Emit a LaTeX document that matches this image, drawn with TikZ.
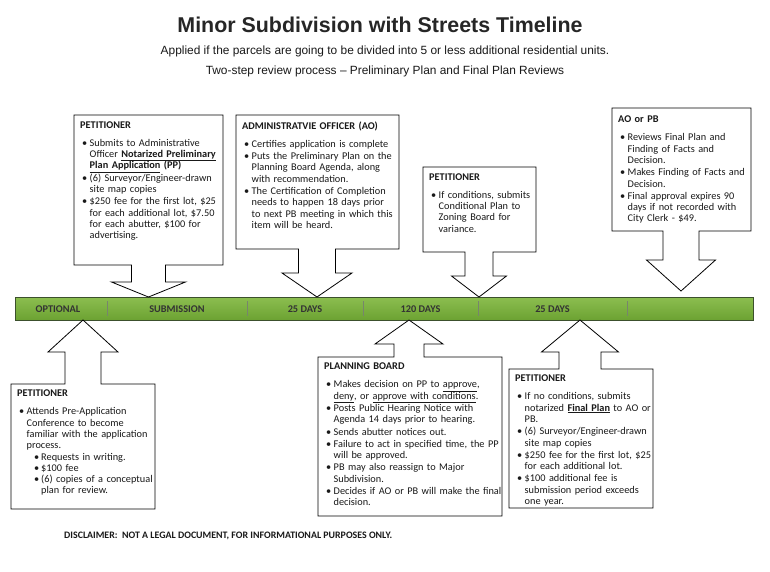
\documentclass[tikz,border=0pt]{standalone}
\usepackage{fontspec}
\setmainfont{Carlito}
\newfontfamily\arialfont{Liberation Sans}
\definecolor{barTop}{RGB}{140,190,80}
\definecolor{barBot}{RGB}{108,162,50}
\definecolor{barEdge}{RGB}{60,80,45}
\definecolor{txt}{RGB}{25,25,25}
\newcommand{\hd}[1]{\noindent\textbf{#1}\par\vspace{5.6pt}}
\newcommand{\bl}[1]{\par\vspace{1pt}\noindent\makebox[9.5pt][l]{\hspace{2pt}\textbullet}#1\par}
\newcommand{\cl}[1]{\noindent\hspace*{9.5pt}#1\par}
\newcommand{\sbl}[1]{\noindent\makebox[24pt][l]{\hspace{17pt}\textbullet}#1\par}
\newcommand{\scl}[1]{\noindent\hspace*{24pt}#1\par}
\newcommand{\ub}[1]{\textbf{\underline{#1}}}
% down callout: L T R B cx s shaftEnd h tip
\newcommand{\dcall}[9]{\draw[callout] (#1,#2) -- (#3,#2) -- (#3,#4) -- ({#5+#6},#4) -- ({#5+#6},#7) -- ({#5+#8},#7) -- (#5,#9) -- ({#5-#8},#7) -- ({#5-#6},#7) -- ({#5-#6},#4) -- (#1,#4) -- cycle;}
% up callout: L T R B cx s wingY h tip
\newcommand{\ucall}[9]{\draw[callout] (#1,#2) -- ({#5-#6},#2) -- ({#5-#6},#7) -- ({#5-#8},#7) -- (#5,#9) -- ({#5+#8},#7) -- ({#5+#6},#7) -- ({#5+#6},#2) -- (#3,#2) -- (#3,#4) -- (#1,#4) -- cycle;}
\begin{document}
\begin{tikzpicture}[x=1pt,y=-1pt,
  callout/.style={draw=black, line width=0.8pt, fill=white, line join=miter},
  boxtext/.style={anchor=north west, inner sep=0pt, text width=200pt, font=\fontsize{10.3}{11.3}\selectfont, text=txt},
  barlabel/.style={anchor=base, inner sep=0pt, font=\bfseries\fontsize{10.3}{12}\selectfont, text=black!80}]
\useasboundingbox (0,0) rectangle (770,572);
\fill[white] (0,0) rectangle (770,572);

% titles
\node[anchor=base, inner sep=0pt, font=\arialfont\bfseries\fontsize{21.4}{24}\selectfont, text=black!85] (title) at (380,33) {Minor Subdivision with Streets Timeline};
\node[anchor=base, inner sep=0pt, font=\arialfont\fontsize{11.9}{14}\selectfont, text=txt] (sub1) at (385,55) {Applied if the parcels are going to be divided into 5 or less additional residential units.};
\node[anchor=base, inner sep=0pt, font=\arialfont\fontsize{11.9}{14}\selectfont, text=txt] (sub2) at (385,75) {Two-step review process – Preliminary Plan and Final Plan Reviews};

% timeline bar
\shade[top color=barTop, bottom color=barBot] (15,297) rectangle (753,320);
\draw[barEdge, line width=0.8pt] (15,297) rectangle (753,320);
\foreach \x in {107,247,363,478,627} \draw[barEdge!70, line width=0.6pt] (\x,301) -- (\x,316);
\node[barlabel] (l1) at (58,312) {OPTIONAL};
\node[barlabel] (l2) at (177,312) {SUBMISSION};
\node[barlabel] (l3) at (305,312) {25 DAYS};
\node[barlabel] (l4) at (420.5,312) {120 DAYS};
\node[barlabel] (l5) at (552.5,312) {25 DAYS};

% top callouts
\dcall{74}{115}{223}{265}{148.5}{17}{282}{37}{297}
\node[boxtext] (b1) at (80,121.5) {%
\hd{PETITIONER}
\bl{Submits to Administrative}
\cl{Officer \ub{Notarized Preliminary}}
\cl{\ub{Plan Application} \textbf{(PP)}}
\bl{(6) Surveyor/Engineer-drawn}
\cl{site map copies}
\bl{\$250 fee for the first lot, \$25}
\cl{for each additional lot, \$7.50}
\cl{for each abutter, \$100 for}
\cl{advertising.}};

\dcall{236}{115}{399}{249}{317}{18.5}{273}{35}{297}
\node[boxtext] (b2) at (242,121.5) {%
\hd{ADMINISTRATVIE OFFICER (AO)}
\bl{Certifies application is complete}
\bl{Puts the Preliminary Plan on the}
\cl{Planning Board Agenda, along}
\cl{with recommendation.}
\bl{The Certification of Completion}
\cl{needs to happen 18 days prior}
\cl{to next PB meeting in which this}
\cl{item will be heard.}};

\dcall{423}{167}{536}{252}{479}{14}{276}{27.5}{297}
\node[boxtext] (b3) at (429,173.5) {%
\hd{PETITIONER}
\bl{If conditions, submits}
\cl{Conditional Plan to}
\cl{Zoning Board for}
\cl{variance.}};

\dcall{612}{108}{751}{231}{681}{18}{260}{34.5}{291}
\node[boxtext] (b4) at (618,116) {%
\hd{AO or PB}
\bl{Reviews Final Plan and}
\cl{Finding of Facts and}
\cl{Decision.}
\bl{Makes Finding of Facts and}
\cl{Decision.}
\bl{Final approval expires 90}
\cl{days if not recorded with}
\cl{City Clerk - \$49.}};

% bottom callouts
\ucall{11}{384}{155}{509}{83}{18}{352}{35}{320}
\node[boxtext] (b5) at (17,390) {%
\hd{PETITIONER}
\bl{Attends Pre-Application}
\cl{Conference to become}
\cl{familiar with the application}
\cl{process.}
\sbl{Requests in writing.}
\sbl{\$100 fee}
\sbl{(6) copies of a conceptual}
\scl{plan for review.}};

\ucall{318}{357}{502}{516}{409}{15}{344}{34}{320}
\node[boxtext] (b6) at (324,363) {%
\hd{PLANNING BOARD}
\bl{Makes decision on PP to \underline{approve},}
\cl{\underline{deny}, or \underline{approve with conditions}.}
\bl{Posts Public Hearing Notice with}
\cl{Agenda 14 days prior to hearing.}
\bl{Sends abutter notices out.}
\bl{Failure to act in specified time, the PP}
\cl{will be approved.}
\bl{PB may also reassign to Major}
\cl{Subdivision.}
\bl{Decides if AO or PB will make the final}
\cl{decision.}};

\ucall{509}{369}{653}{508}{580}{21}{352}{38.5}{320}
\node[boxtext] (b7) at (515,375) {%
\hd{PETITIONER}
\bl{If no conditions, submits}
\cl{notarized \ub{Final Plan} to AO or}
\cl{PB.}
\bl{(6) Surveyor/Engineer-drawn}
\cl{site map copies}
\bl{\$250 fee for the first lot, \$25}
\cl{for each additional lot.}
\bl{\$100 additional fee is}
\cl{submission period exceeds}
\cl{one year.}};

% disclaimer
\node[anchor=base west, inner sep=0pt, font=\bfseries\fontsize{9.9}{12}\selectfont, text=txt] (disc) at (64,538) {DISCLAIMER:\ \ NOT A LEGAL DOCUMENT, FOR INFORMATIONAL PURPOSES ONLY.};
\end{tikzpicture}
\end{document}
